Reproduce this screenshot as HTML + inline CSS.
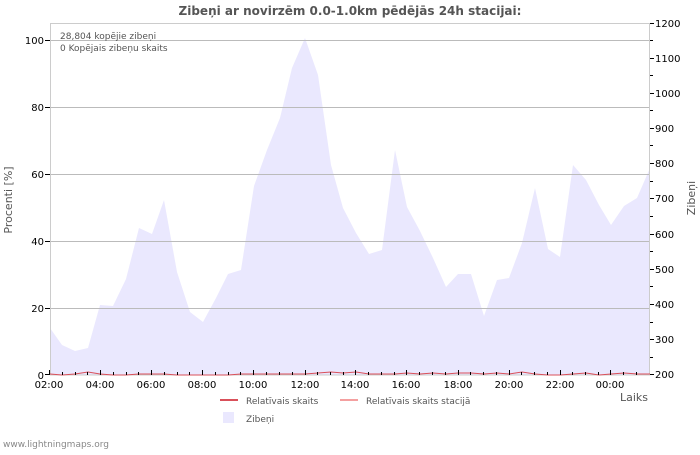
<!DOCTYPE html>
<html><head><style>
body{margin:0;background:#fff;}
svg text{font-family:"DejaVu Sans","Liberation Sans",sans-serif;}
</style></head><body>
<svg width="700" height="450" xmlns="http://www.w3.org/2000/svg">
<rect width="700" height="450" fill="#fff"/>
<text x="350" y="15" text-anchor="middle" font-size="12" font-weight="bold" fill="#555">Zibeņi ar novirzēm 0.0-1.0km pēdējās 24h stacijai:</text>
<polygon fill="#eae8fe" points="50,375 50,328 62,345 75,351 88,348 100,305 113,306 126,279 139,228 152,234 164,200 177,272 190,312 203,322 216,298 228,274 241,270 254,186 267,150 280,118 292,68 305,38 318,75 331,165 343,208 356,233 369,254 382,250 395,150 407,207 420,231 433,258 446,287 458,274 471,274 484,316 497,280 509,278 522,243 535,188 548,249 560,257 573,165 586,180 599,205 611,225 624,206 637,198 650,168 650,375"/>
<g stroke="#bbb" stroke-width="1">
<line x1="50" y1="40.5" x2="650" y2="40.5"/>
<line x1="50" y1="107.5" x2="650" y2="107.5"/>
<line x1="50" y1="174.5" x2="650" y2="174.5"/>
<line x1="50" y1="241.5" x2="650" y2="241.5"/>
<line x1="50" y1="308.5" x2="650" y2="308.5"/>
</g>
<rect x="50.5" y="23.5" width="599" height="351.5" fill="none" stroke="#ccc"/>
<polyline fill="none" stroke="#d9505a" stroke-width="1" points="50,374 62,375 75,374 88,372 100,374 113,375 126,375 139,374 152,374 164,374 177,375 190,375 203,375 216,375 228,375 241,374 254,374 267,374 280,374 292,374 305,374 318,373 331,372 343,373 356,372 369,374 382,374 395,374 407,373 420,374 433,373 446,374 458,373 471,373 484,374 497,373 509,374 522,372 535,374 548,375 560,375 573,374 586,373 599,375 611,374 624,373 637,374 650,374"/>
<g font-size="10" fill="#000" text-anchor="end">
<text x="44" y="44">100</text><text x="44" y="111">80</text><text x="44" y="178">60</text><text x="44" y="245">40</text><text x="44" y="312">20</text><text x="44" y="379">0</text>
</g>
<g stroke="#000"><line x1="45" y1="40.5" x2="50" y2="40.5"/><line x1="45" y1="107.5" x2="50" y2="107.5"/><line x1="45" y1="174.5" x2="50" y2="174.5"/><line x1="45" y1="241.5" x2="50" y2="241.5"/><line x1="45" y1="308.5" x2="50" y2="308.5"/><line x1="45" y1="374.5" x2="50" y2="374.5"/></g>
<g font-size="10" fill="#000">
<text x="655" y="27">1200</text><text x="655" y="62">1100</text><text x="655" y="97">1000</text><text x="655" y="132">900</text><text x="655" y="167">800</text><text x="655" y="202">700</text><text x="655" y="238">600</text><text x="655" y="273">500</text><text x="655" y="308">400</text><text x="655" y="343">300</text><text x="655" y="378">200</text>
</g>
<g font-size="10" fill="#000" text-anchor="middle">
<text x="49" y="388">02:00</text><text x="100" y="388">04:00</text><text x="151" y="388">06:00</text><text x="202" y="388">08:00</text><text x="253" y="388">10:00</text><text x="305" y="388">12:00</text><text x="355" y="388">14:00</text><text x="406" y="388">16:00</text><text x="458" y="388">18:00</text><text x="509" y="388">20:00</text><text x="560" y="388">22:00</text><text x="610" y="388">00:00</text>
</g>
<text x="12" y="200" font-size="11" fill="#555" text-anchor="middle" transform="rotate(-90 12 200)">Procenti   [%]</text>
<text x="695" y="198" font-size="11" fill="#555" text-anchor="middle" transform="rotate(-90 695 198)">Zibeņi</text>
<text x="620" y="401" font-size="11" fill="#555">Laiks</text>
<text x="60" y="39" font-size="9" fill="#555">28,804 kopējie zibeņi</text>
<text x="60" y="51" font-size="9" fill="#555">0 Kopējais zibeņu skaits</text>
<line x1="220" y1="400" x2="238" y2="400" stroke="#d9505a" stroke-width="2"/>
<text x="246" y="404" font-size="9" fill="#555">Relatīvais skaits</text>
<line x1="340" y1="400" x2="358" y2="400" stroke="#f4a0a0" stroke-width="2"/>
<text x="366" y="404" font-size="9" fill="#555">Relatīvais skaits stacijā</text>
<rect x="223" y="412" width="11" height="11" fill="#eae8fe"/>
<text x="246" y="422" font-size="9" fill="#555">Zibeņi</text>
<text x="3" y="447" font-size="9" fill="#888">www.lightningmaps.org</text>
<g stroke="#000">
<line x1="650" y1="23.5" x2="654" y2="23.5"/><line x1="650" y1="40.5" x2="653" y2="40.5"/><line x1="650" y1="58.5" x2="654" y2="58.5"/><line x1="650" y1="75.5" x2="653" y2="75.5"/><line x1="650" y1="93.5" x2="654" y2="93.5"/><line x1="650" y1="110.5" x2="653" y2="110.5"/><line x1="650" y1="128.5" x2="654" y2="128.5"/><line x1="650" y1="145.5" x2="653" y2="145.5"/><line x1="650" y1="163.5" x2="654" y2="163.5"/><line x1="650" y1="181.5" x2="653" y2="181.5"/><line x1="650" y1="198.5" x2="654" y2="198.5"/><line x1="650" y1="216.5" x2="653" y2="216.5"/><line x1="650" y1="234.5" x2="654" y2="234.5"/><line x1="650" y1="251.5" x2="653" y2="251.5"/><line x1="650" y1="269.5" x2="654" y2="269.5"/><line x1="650" y1="286.5" x2="653" y2="286.5"/><line x1="650" y1="304.5" x2="654" y2="304.5"/><line x1="650" y1="322.5" x2="653" y2="322.5"/><line x1="650" y1="339.5" x2="654" y2="339.5"/><line x1="650" y1="357.5" x2="653" y2="357.5"/><line x1="650" y1="374.5" x2="654" y2="374.5"/>
</g>
<g stroke="#000">
<line x1="49.5" y1="370" x2="49.5" y2="375"/><line x1="62.5" y1="372" x2="62.5" y2="375"/><line x1="75.5" y1="372" x2="75.5" y2="375"/><line x1="87.5" y1="372" x2="87.5" y2="375"/><line x1="100.5" y1="370" x2="100.5" y2="375"/><line x1="113.5" y1="372" x2="113.5" y2="375"/><line x1="126.5" y1="372" x2="126.5" y2="375"/><line x1="138.5" y1="372" x2="138.5" y2="375"/><line x1="151.5" y1="370" x2="151.5" y2="375"/><line x1="164.5" y1="372" x2="164.5" y2="375"/><line x1="177.5" y1="372" x2="177.5" y2="375"/><line x1="189.5" y1="372" x2="189.5" y2="375"/><line x1="202.5" y1="370" x2="202.5" y2="375"/><line x1="215.5" y1="372" x2="215.5" y2="375"/><line x1="228.5" y1="372" x2="228.5" y2="375"/><line x1="240.5" y1="372" x2="240.5" y2="375"/><line x1="253.5" y1="370" x2="253.5" y2="375"/><line x1="266.5" y1="372" x2="266.5" y2="375"/><line x1="279.5" y1="372" x2="279.5" y2="375"/><line x1="292.5" y1="372" x2="292.5" y2="375"/><line x1="305.5" y1="370" x2="305.5" y2="375"/><line x1="317.5" y1="372" x2="317.5" y2="375"/><line x1="330.5" y1="372" x2="330.5" y2="375"/><line x1="343.5" y1="372" x2="343.5" y2="375"/><line x1="355.5" y1="370" x2="355.5" y2="375"/><line x1="368.5" y1="372" x2="368.5" y2="375"/><line x1="381.5" y1="372" x2="381.5" y2="375"/><line x1="394.5" y1="372" x2="394.5" y2="375"/><line x1="406.5" y1="370" x2="406.5" y2="375"/><line x1="419.5" y1="372" x2="419.5" y2="375"/><line x1="432.5" y1="372" x2="432.5" y2="375"/><line x1="445.5" y1="372" x2="445.5" y2="375"/><line x1="458.5" y1="370" x2="458.5" y2="375"/><line x1="470.5" y1="372" x2="470.5" y2="375"/><line x1="483.5" y1="372" x2="483.5" y2="375"/><line x1="496.5" y1="372" x2="496.5" y2="375"/><line x1="509.5" y1="370" x2="509.5" y2="375"/><line x1="521.5" y1="372" x2="521.5" y2="375"/><line x1="534.5" y1="372" x2="534.5" y2="375"/><line x1="547.5" y1="372" x2="547.5" y2="375"/><line x1="560.5" y1="370" x2="560.5" y2="375"/><line x1="572.5" y1="372" x2="572.5" y2="375"/><line x1="585.5" y1="372" x2="585.5" y2="375"/><line x1="598.5" y1="372" x2="598.5" y2="375"/><line x1="610.5" y1="370" x2="610.5" y2="375"/><line x1="623.5" y1="372" x2="623.5" y2="375"/><line x1="636.5" y1="372" x2="636.5" y2="375"/>
</g>
</svg>
</body></html>
